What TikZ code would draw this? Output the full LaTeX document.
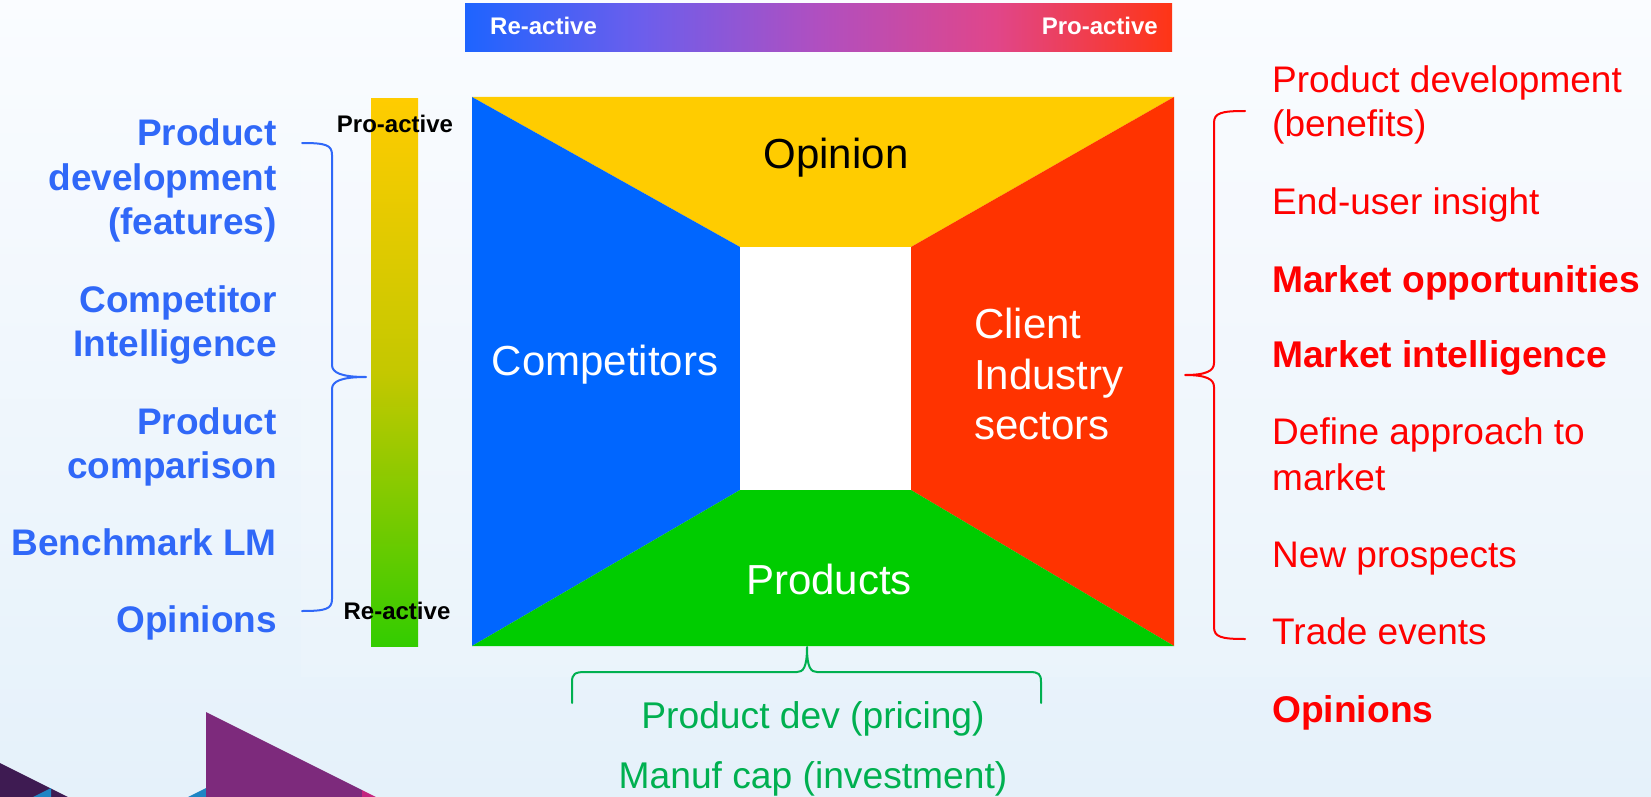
\documentclass[tikz,border=0pt]{standalone}
\usepackage{fontspec}
\setmainfont{Liberation Sans}
\definecolor{bgtop}{HTML}{FAFCFF}
\definecolor{bgbot}{HTML}{E5F1FA}
\definecolor{cyel}{HTML}{FFCC00}
\definecolor{cblue}{HTML}{0066FF}
\definecolor{cred}{HTML}{FF3300}
\definecolor{cgreen}{HTML}{00CC00}
\definecolor{lblue}{HTML}{3068F8}
\definecolor{rred}{HTML}{FF0000}
\definecolor{bgreen}{HTML}{00B050}
\definecolor{tbA}{HTML}{1E64FF}
\definecolor{tbB}{HTML}{6C5EEC}
\definecolor{tbC}{HTML}{B04FC0}
\definecolor{tbD}{HTML}{E0468A}
\definecolor{tbE}{HTML}{FF3515}
\definecolor{vbTop}{HTML}{FFCC00}
\definecolor{vbMid}{HTML}{C4C800}
\definecolor{vbBot}{HTML}{33CC00}
\definecolor{dkpurple}{HTML}{3E1B52}
\definecolor{dpurple}{HTML}{7D2A7C}
\definecolor{dblue}{HTML}{1F85C4}
\definecolor{dpink}{HTML}{C4247E}
\pgfdeclarehorizontalshading{scalebar}{100bp}{color(0bp)=(tbA); color(25bp)=(tbA); color(37.5bp)=(tbB); color(50bp)=(tbC); color(62.5bp)=(tbD); color(75bp)=(tbE); color(100bp)=(tbE)}
\pgfdeclareverticalshading{activitybar}{100bp}{color(0bp)=(vbBot); color(25bp)=(vbBot); color(50bp)=(vbMid); color(75bp)=(vbTop); color(100bp)=(vbTop)}
\tikzset{
  leftlbl/.style={font=\fontsize{37}{40}\selectfont\bfseries, text=lblue, anchor=base east, inner sep=0pt},
  rightlbl/.style={font=\fontsize{37}{40}\selectfont, text=rred, anchor=base west, inner sep=0pt},
  rightbold/.style={font=\fontsize{37.2}{40}\selectfont\bfseries, text=rred, anchor=base west, inner sep=0pt},
  greenlbl/.style={font=\fontsize{37.2}{40}\selectfont, text=bgreen, anchor=base, inner sep=0pt},
  facelbl/.style={font=\fontsize{42}{46}\selectfont, text=white, anchor=base, inner sep=0pt},
  barlbl/.style={font=\fontsize{24}{26}\selectfont\bfseries, inner sep=0pt},
  bracket/.style={line width=2pt, line join=round, line cap=round}
}
\begin{document}
\begin{tikzpicture}[x=1pt, y=-1pt]
% page and background
\useasboundingbox (0,0) rectangle (1651,797);
\shade[top color=bgtop, bottom color=bgbot] (0,0) rectangle (1651,797);
\fill[white, opacity=0.12] (301,0) rectangle (1651,677);

% corner ribbons
\fill[dkpurple] (0,763) -- (68,797) -- (0,797) -- cycle;
\fill[dblue] (33,797) -- (51,788) -- (51,797) -- cycle;
\fill[dblue] (188,797) -- (206,788) -- (206,797) -- cycle;
\fill[dpurple] (206,712) -- (362,790) -- (362,797) -- (206,797) -- cycle;
\fill[dpink] (362,790) -- (376,797) -- (362,797) -- cycle;

% horizontal re-active / pro-active scale
\shade[shading=scalebar] (465,4) rectangle (1172,52);
\node[barlbl, text=white, anchor=base west] (topre) at (490,35) {Re-active};
\node[barlbl, text=white, anchor=base east] (toppro) at (1158,35) {Pro-active};

% vertical scale
\shade[shading=activitybar] (371,99) rectangle (418,646);
\node[barlbl, anchor=base] (vpro) at (395,132) {Pro-active};
\node[barlbl, anchor=base] (vre) at (397,619) {Re-active};

% framed room: four faces around the open centre
\coordinate (A) at (472,97);
\coordinate (B) at (1174,97);
\coordinate (C) at (1174,646);
\coordinate (D) at (472,646);
\coordinate (a) at (740,247);
\coordinate (b) at (911,247);
\coordinate (c) at (911,490);
\coordinate (d) at (740,490);
\fill[cyel] (A) -- (B) -- (b) -- (a) -- cycle;
\fill[cblue] (A) -- (a) -- (d) -- (D) -- cycle;
\fill[cred] (B) -- (C) -- (c) -- (b) -- cycle;
\fill[cgreen] (D) -- (d) -- (c) -- (C) -- cycle;
\fill[white] (a) rectangle (c);

\node[facelbl, text=black] (opinion) at (836,168) {Opinion};
\node[facelbl] (competitors) at (605,375) {Competitors};
\node[facelbl, anchor=base west] (client1) at (974,338) {Client};
\node[facelbl, anchor=base west] (client2) at (974,389) {Industry};
\node[facelbl, anchor=base west] (client3) at (974,439) {sectors};
\node[facelbl] (products) at (829,594) {Products};

% competitor-side list
\node[leftlbl] (l1a) at (277,146) {Product};
\node[leftlbl] (l1b) at (277,190) {development};
\node[leftlbl] (l1c) at (277,234) {(features)};
\node[leftlbl] (l2a) at (277,312) {Competitor};
\node[leftlbl] (l2b) at (277,356) {Intelligence};
\node[leftlbl] (l3a) at (277,434) {Product};
\node[leftlbl] (l3b) at (277,478) {comparison};
\node[leftlbl] (l4) at (277,555) {Benchmark LM};
\node[leftlbl] (l5) at (277,632) {Opinions};

% client-side list
\node[rightlbl] (r1a) at (1272,93) {Product development};
\node[rightlbl] (r1b) at (1272,137) {(benefits)};
\node[rightlbl] (r2) at (1272,214) {End-user insight};
\node[rightbold] (r3) at (1272,292) {Market opportunities};
\node[rightbold] (r4) at (1272,367) {Market intelligence};
\node[rightlbl] (r5a) at (1272,444) {Define approach to};
\node[rightlbl] (r5b) at (1272,490) {market};
\node[rightlbl] (r6) at (1272,567) {New prospects};
\node[rightlbl] (r7) at (1272,644) {Trade events};
\node[rightbold] (r8) at (1272,722) {Opinions};

% product-side list
\node[greenlbl] (g1) at (813,728) {Product dev (pricing)};
\node[greenlbl] (g2) at (813,788) {Manuf cap (investment)};

% brackets
\draw[bracket, lblue] (302,143) .. controls (326,143) and (332,145) .. (332,155)
  -- (332,365) .. controls (332,373) and (342,377) .. (366,377)
  .. controls (342,377) and (332,381) .. (332,389)
  -- (332,599) .. controls (332,609) and (326,611) .. (302,611);
\draw[bracket, rred] (1245,111) .. controls (1221,111) and (1214,113) .. (1214,123)
  -- (1214,363) .. controls (1214,371) and (1206,375) .. (1185,375)
  .. controls (1206,375) and (1214,379) .. (1214,387)
  -- (1214,627) .. controls (1214,637) and (1221,639) .. (1245,639);
\draw[bracket, bgreen] (572,703) -- (572,682) .. controls (572,674) and (575,672) .. (585,672)
  -- (797,672) .. controls (803,672) and (807,668) .. (807,647)
  .. controls (807,668) and (811,672) .. (817,672)
  -- (1029,672) .. controls (1039,672) and (1041,674) .. (1041,682) -- (1041,703);
\end{tikzpicture}
\end{document}
